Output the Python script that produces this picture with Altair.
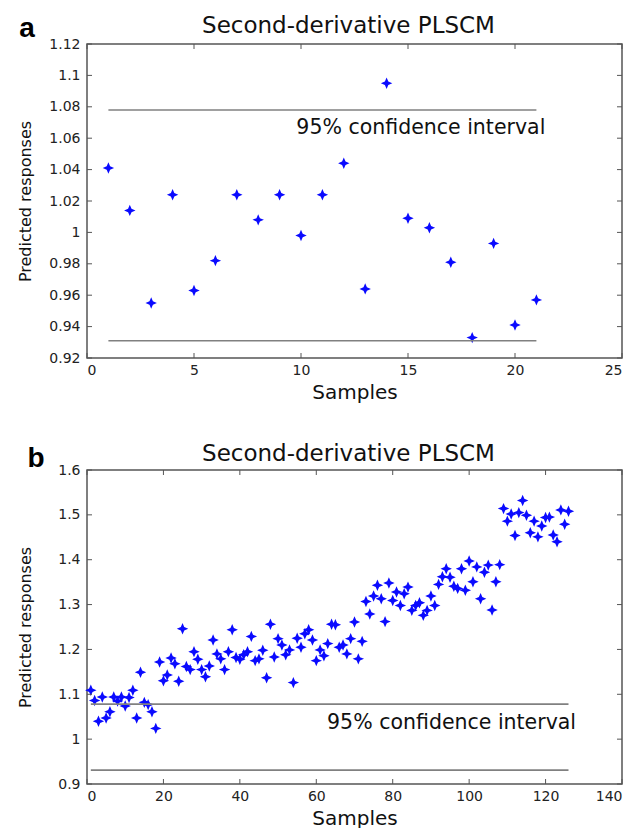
import altair as alt
import pandas as pd

# ---------------- data ----------------
a_samples = list(range(1, 22))
a_pred = [1.041, 1.014, 0.955, 1.024, 0.963, 0.982, 1.024, 1.008, 1.024, 0.998,
          1.024, 1.044, 0.964, 1.095, 1.009, 1.003, 0.981, 0.933, 0.993, 0.941, 0.957]

b_samples = list(range(1, 127))
b_pred = [1.109, 1.086, 1.040, 1.094, 1.047, 1.061, 1.094, 1.085, 1.094, 1.074,
          1.093, 1.109, 1.047, 1.149, 1.082, 1.077, 1.061, 1.024, 1.172, 1.130,
          1.143, 1.181, 1.168, 1.129, 1.246, 1.162, 1.155, 1.195, 1.178, 1.155,
          1.139, 1.163, 1.221, 1.190, 1.179, 1.155, 1.195, 1.244, 1.182, 1.178,
          1.188, 1.195, 1.229, 1.175, 1.179, 1.198, 1.137, 1.256, 1.183, 1.224,
          1.210, 1.188, 1.199, 1.126, 1.225, 1.205, 1.235, 1.244, 1.221, 1.175,
          1.199, 1.186, 1.213, 1.256, 1.255, 1.205, 1.210, 1.190, 1.224, 1.261,
          1.179, 1.218, 1.307, 1.279, 1.319, 1.343, 1.313, 1.262, 1.348, 1.309,
          1.328, 1.298, 1.324, 1.339, 1.287, 1.298, 1.304, 1.276, 1.287, 1.319,
          1.298, 1.345, 1.362, 1.380, 1.361, 1.341, 1.336, 1.380, 1.332, 1.397,
          1.351, 1.384, 1.313, 1.372, 1.388, 1.288, 1.351, 1.389, 1.514, 1.486,
          1.502, 1.454, 1.505, 1.532, 1.499, 1.460, 1.486, 1.451, 1.475, 1.494,
          1.495, 1.455, 1.440, 1.511, 1.479, 1.508]

ci_upper = 1.078
ci_lower = 0.931
a_ci_range = [1, 21]
b_ci_range = [1, 126]

a_xticks = [0, 5, 10, 15, 20, 25]
a_yticks = [0.92, 0.94, 0.96, 0.98, 1.0, 1.02, 1.04, 1.06, 1.08, 1.1, 1.12]
b_xticks = [0, 20, 40, 60, 80, 100, 120, 140]
b_yticks = [0.9, 1.0, 1.1, 1.2, 1.3, 1.4, 1.5, 1.6]

title_text = "Second-derivative PLSCM"
ci_text = "95% confidence interval"
a_ci_text_pos = [15.6, 1.0665]
b_ci_text_pos = [95.4, 1.036]

# ---------------- style ----------------
W, H = 535, 314
FONT = "DejaVu Sans"
AXIS_COLOR = "#555555"
STAR = "M0,-1L0.3,-0.3L1,0L0.3,0.3L0,1L-0.3,0.3L-1,0L-0.3,-0.3Z"


def panel(letter, xs, ys, xdom, ydom, xticks, yticks, ci_range, ci_pos, title_dy, letter_xy):
    xsc = alt.Scale(domain=xdom, nice=False, zero=False)
    ysc = alt.Scale(domain=ydom, nice=False, zero=False)
    xax = alt.Axis(values=xticks, format="d", ticks=False, domain=False, grid=False,
                   labelOverlap=False,
                   labelFont=FONT, labelFontSize=14, labelColor="#222222", labelPadding=5,
                   title="Samples", titleFont=FONT, titleFontSize=20, titleFontWeight="normal",
                   titleColor="#111111", titlePadding=5)
    yax = alt.Axis(values=yticks, format="~g", ticks=False, domain=False, grid=False,
                   labelOverlap=False,
                   labelFont=FONT, labelFontSize=14, labelColor="#222222", labelPadding=7,
                   minExtent=38, maxExtent=38,
                   title="Predicted responses", titleFont=FONT, titleFontSize=16,
                   titleFontWeight="normal", titleColor="#111111", titlePadding=16)

    def X(f):
        return alt.X(f, type="quantitative", scale=xsc, axis=xax)

    def Y(f):
        return alt.Y(f, type="quantitative", scale=ysc, axis=yax)

    pts = pd.DataFrame({"x": xs, "y": ys})
    points = alt.Chart(pts).mark_point(shape=STAR, filled=True, size=130,
                                       color="#0a0aff", opacity=1).encode(x=X("x"), y=Y("y"))

    ci = pd.DataFrame({"x": [ci_range[0], ci_range[0]], "x2": [ci_range[1], ci_range[1]],
                       "y": [ci_upper, ci_lower]})
    ci_rules = alt.Chart(ci).mark_rule(color="#808080", strokeWidth=1.6).encode(
        x=X("x"), x2="x2:Q", y=Y("y"))

    ci_lab = alt.Chart(pd.DataFrame({"x": [ci_pos[0]], "y": [ci_pos[1]], "t": [ci_text]})).mark_text(
        font=FONT, fontSize=20.5, align="center", baseline="middle", color="#111111").encode(
        x=X("x"), y=Y("y"), text="t:N")

    xt = pd.DataFrame({"x": xticks})
    yt = pd.DataFrame({"y": yticks})
    tb = alt.Chart(xt).mark_rule(color=AXIS_COLOR, strokeWidth=1).encode(
        x=X("x"), y=alt.value(H), y2=alt.value(H - 5))
    tt = alt.Chart(xt).mark_rule(color=AXIS_COLOR, strokeWidth=1).encode(
        x=X("x"), y=alt.value(0), y2=alt.value(5))
    tl = alt.Chart(yt).mark_rule(color=AXIS_COLOR, strokeWidth=1).encode(
        y=Y("y"), x=alt.value(0), x2=alt.value(5))
    tr = alt.Chart(yt).mark_rule(color=AXIS_COLOR, strokeWidth=1).encode(
        y=Y("y"), x=alt.value(W), x2=alt.value(W - 5))

    ttl = alt.Chart(pd.DataFrame({"t": [title_text]})).mark_text(
        font=FONT, fontSize=23, align="center", baseline="middle", color="#111111").encode(
        x=alt.value(W / 2 - 6), y=alt.value(title_dy), text="t:N")
    let = alt.Chart(pd.DataFrame({"t": [letter]})).mark_text(
        font="Liberation Sans", fontWeight="bold", fontSize=28, align="center",
        baseline="middle", color="#000000").encode(
        x=alt.value(letter_xy[0]), y=alt.value(letter_xy[1]), text="t:N")

    return alt.layer(points, ci_rules, ci_lab, tb, tt, tl, tr, ttl, let).properties(width=W, height=H)


pa = panel("a", a_samples, a_pred, [0, 25], [0.92, 1.12], a_xticks, a_yticks,
           a_ci_range, a_ci_text_pos, -18, (-60, -15))
pb = panel("b", b_samples, b_pred, [0, 140], [0.9, 1.6], b_xticks, b_yticks,
           b_ci_range, b_ci_text_pos, -16, (-51, -11))

chart = alt.vconcat(pa, pb, spacing=39).properties(
    padding={"left": 16, "top": 14, "right": 0, "bottom": 0},
    background="white",
).configure_view(stroke=AXIS_COLOR, strokeWidth=1.5)

chart.save("out.html", embed_options={"renderer": "svg", "actions": False})
